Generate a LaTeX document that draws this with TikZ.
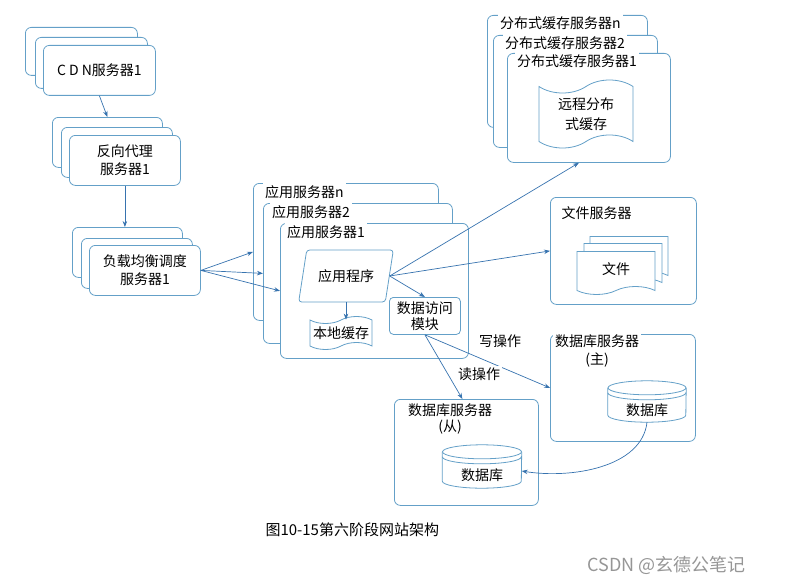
\documentclass[tikz,border=0pt]{standalone}
\usepackage{fontspec}
\setmainfont{Noto Sans CJK SC}
\usetikzlibrary{positioning,shapes.geometric,shapes.symbols,arrows.meta}
\definecolor{boxc}{RGB}{100,160,200}
\definecolor{arrc}{RGB}{55,115,175}
\definecolor{markc}{RGB}{150,150,150}

\begin{document}
\begin{tikzpicture}[x=1pt, y=-1pt, font=\fontsize{14}{18}\selectfont,
	box/.style = {draw=boxc, line width=0.8pt, rounded corners=6pt, fill=white, anchor=north west, inner sep=0pt},
	tag/.style = {fill=white, inner xsep=2pt, inner ysep=3pt, anchor=north west},
	flow/.style = {draw=arrc, line width=0.7pt, -{Stealth[length=6pt,width=4.5pt]}},
	dbline/.style = {draw=boxc, line width=0.8pt},
	paper/.style = {draw=boxc, line width=0.8pt, fill=white, tape, inner sep=0pt}]
			\useasboundingbox (0,0) rectangle (791,583);
			% CDN
			\node[box, minimum width=112pt, minimum height=48pt] (cdn3) at (25,27) {};
			\node[box, minimum width=112pt, minimum height=51pt] (cdn2) at (35,37) {};
			\node[box, minimum width=112pt, minimum height=50pt] (cdn1) at (43,45) {C D N服务器1};
			% reverse proxy
			\node[box, minimum width=110pt, minimum height=50pt] (proxy3) at (52,117) {};
			\node[box, minimum width=111pt, minimum height=50pt] (proxy2) at (61,127) {};
			\node[box, minimum width=111pt, minimum height=50pt, align=center] (proxy1) at (69,135) {反向代理\\服务器1};
			% load balancer
			\node[box, minimum width=110pt, minimum height=50pt] (lb3) at (72,227) {};
			\node[box, minimum width=111pt, minimum height=50pt] (lb2) at (81,238) {};
			\node[box, minimum width=111pt, minimum height=50pt, align=center] (lb1) at (89,245) {负载均衡调度\\服务器1};
			% application servers
			\node[box, minimum width=185pt, minimum height=137pt] (app3) at (253,183) {};
			\node[tag] (app3t) at ([shift={(10,-1)}]app3.north west) {应用服务器n};
			\node[box, minimum width=189pt, minimum height=140pt] (app2) at (263,203) {};
			\node[tag] (app2t) at ([shift={(7,-1)}]app2.north west) {应用服务器2};
			\node[box, minimum width=188pt, minimum height=135pt] (app1) at (280,223) {};
			\node[tag] (app1t) at ([shift={(5,-1)}]app1.north west) {应用服务器1};
			\node[draw=boxc, line width=0.8pt, fill=white, trapezium, trapezium left angle=72, trapezium right angle=108,
				trapezium stretches, minimum width=95pt, minimum height=52pt, rounded corners=3pt] (prog) at (346,276) {应用程序};
			\node[paper, minimum width=62pt, minimum height=33pt, tape bend height=7pt] (local) at (341,333) {本地缓存};
			\node[box, minimum width=71pt, minimum height=37pt, align=center, rounded corners=4pt,
				font=\fontsize{14}{16}\selectfont] (dam) at (389,297) {数据访问\\模块};
			% distributed cache
			\node[box, minimum width=160pt, minimum height=112pt] (dc3) at (487,15) {};
			\node[tag] (dc3t) at ([shift={(11,-1)}]dc3.north west) {分布式缓存服务器n};
			\node[box, minimum width=164pt, minimum height=112pt] (dc2) at (493,35) {};
			\node[tag] (dc2t) at ([shift={(10,-1)}]dc2.north west) {分布式缓存服务器2};
			\node[box, minimum width=163pt, minimum height=109pt] (dc1) at (507,53) {};
			\node[tag] (dc1t) at ([shift={(8,-1)}]dc1.north west) {分布式缓存服务器1};
			\node[paper, minimum width=94pt, minimum height=68pt, tape bend height=13pt, align=center,
				font=\fontsize{14}{20}\selectfont] (remote) at (586,114) {远程分布\\式缓存};
			% file server
			\node[box, minimum width=146pt, minimum height=107pt] (fs) at (550,197) {};
			\node[anchor=west] (fst) at (558,213) {文件服务器};
			\node[paper, tape bend top=none, tape bend height=8pt, minimum width=78pt, minimum height=43pt] (doc3) at (629,254) {};
			\node[paper, tape bend top=none, tape bend height=8pt, minimum width=78pt, minimum height=43pt] (doc2) at ([shift={(-6,7)}]doc3.center) {};
			\node[paper, tape bend top=none, tape bend height=8pt, minimum width=78pt, minimum height=43pt] (doc1) at ([shift={(-7,8)}]doc2.center) {文件};
			% database master
			\node[box, minimum width=145pt, minimum height=107pt] (mbox) at (550,334) {};
			\node[tag, align=center] (mboxt) at ([shift={(3,-2)}]mbox.north west) {数据库服务器\\(主)};
			\node[inner sep=0pt, minimum width=78pt, minimum height=24pt] (mdb) at (647,410) {数据库};
			\draw[dbline] ([yshift=10pt]mdb.north) ellipse [x radius=39pt, y radius=7pt];
			\draw[dbline] ([yshift=10pt]mdb.north west) -- ([yshift=7pt]mdb.south west)
				arc[start angle=180, end angle=360, x radius=39pt, y radius=7pt] -- ([yshift=10pt]mdb.north east);
			\draw[dbline] ([yshift=5pt]mdb.north west) arc[start angle=180, end angle=360, x radius=39pt, y radius=7pt];
			% database slave
			\node[box, minimum width=144pt, minimum height=106pt] (sbox) at (394,399) {};
			\node[align=center, font=\fontsize{14}{16}\selectfont] (sboxt) at (450,419) {数据库服务器\\(从)};
			\node[inner sep=0pt, minimum width=79pt, minimum height=26pt] (sdb) at (482,475) {数据库};
			\draw[dbline] ([yshift=10pt]sdb.north) ellipse [x radius=39.5pt, y radius=7pt];
			\draw[dbline] ([yshift=10pt]sdb.north west) -- ([yshift=7pt]sdb.south west)
				arc[start angle=180, end angle=360, x radius=39.5pt, y radius=7pt] -- ([yshift=10pt]sdb.north east);
			\draw[dbline] ([yshift=5pt]sdb.north west) arc[start angle=180, end angle=360, x radius=39.5pt, y radius=7pt];
			% connectors
			\draw[flow] (cdn1.south) -- (proxy3.north);
			\draw[flow] (proxy1.south) -- (proxy1.south |- lb3.north);
			\draw[flow] (lb1.east) -- (app3.west);
			\draw[flow] (lb1.east) -- (app2.west);
			\draw[flow] (lb1.east) -- (app1.west);
			\draw[flow] (prog.south) -- (prog.south |- local.north);
			\draw[flow] (prog.east) -- ([xshift=-10pt]dc1.south);
			\draw[flow] (prog.east) -- (fs.west);
			\draw[flow] (prog.east) -- (dam.north);
			\draw[flow] (dam.south) -- ([xshift=-4pt]sbox.north);
			\draw[flow] (dam.south) -- (mbox.west);
			\draw[flow] (mdb.south) .. controls +(-5,45) and +(50,8) .. ([yshift=4pt]sdb.east);
			\node (wr) at (500,341) {写操作};
			\node[fill=white, inner sep=2pt] (rd) at (479,374) {读操作};
			% caption
			\node[anchor=west, font=\fontsize{15}{18}\selectfont] (cap) at (262,530) {图10-15第六阶段网站架构};
			\node[anchor=east, text=markc, font=\fontsize{18}{21}\selectfont] (mark) at (749,565) {CSDN @玄德公笔记};
		\end{tikzpicture}
\end{document}
